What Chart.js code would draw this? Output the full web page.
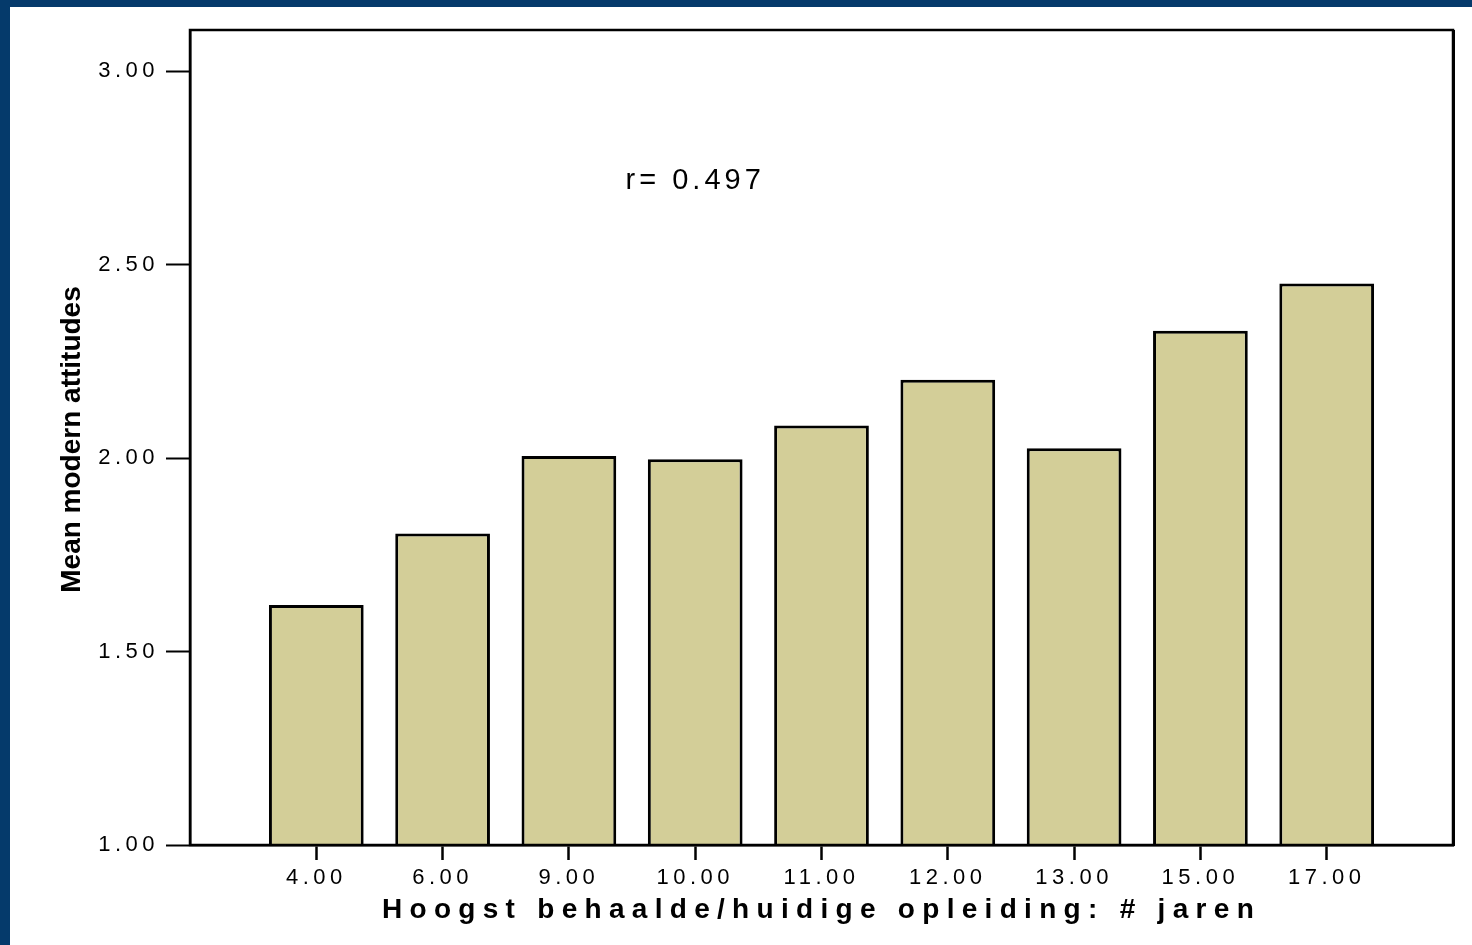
<!DOCTYPE html>
<html>
<head>
<meta charset="utf-8">
<script src="https://cdn.jsdelivr.net/npm/chart.js@4.4.0/dist/chart.umd.min.js"></script>
<style>
  html, body { margin: 0; padding: 0; background: #053a6b; overflow: hidden; }
  #wrap { position: absolute; left: 10px; top: 7px; width: 1462px; height: 938px; background: #fff; }
</style>
</head>
<body>
<div id="wrap"><canvas id="myChart" width="1462" height="938"></canvas></div>
<script>
// years of education (categories) and mean score per group
var categories = ['4.00', '6.00', '9.00', '10.00', '11.00', '12.00', '13.00', '15.00', '17.00'];
var meanValues = [1.62, 1.805, 2.005, 1.997, 2.084, 2.202, 2.025, 2.329, 2.451];
var yTicks = [1.0, 1.5, 2.0, 2.5, 3.0];
var xTitle = 'Hoogst behaalde/huidige opleiding: # jaren';
var yTitle = 'Mean modern attitudes';
var note = 'r= 0.497';

var FONT = "'Liberation Sans', Arial, Helvetica, sans-serif";

// one empty slot on each side so the bars sit like in the original plot
var labels = [''].concat(categories, ['']);
var values = [null].concat(meanValues, [null]);

var framePlugin = {
  id: 'frame',
  beforeDraw: function (chart) {
    // axis title is drawn before the bars, tick labels after (ticks.z = 1)
    chart.ctx.letterSpacing = '7.3px';
  },
  afterDatasetsDraw: function (chart) {
    var ctx = chart.ctx, a = chart.chartArea;
    ctx.save();
    ctx.strokeStyle = '#000';
    ctx.lineWidth = 2.5;
    ctx.strokeRect(a.left, a.top, a.right - a.left, a.bottom - a.top);
    ctx.lineWidth = 3;
    ctx.beginPath();
    ctx.moveTo(a.right + 0.5, a.top);
    ctx.lineTo(a.right + 0.5, a.bottom + 1);
    ctx.stroke();
    ctx.restore();
    ctx.letterSpacing = '4.5px';
  },
  afterDraw: function (chart) {
    var ctx = chart.ctx, a = chart.chartArea;
    ctx.save();
    // y axis title, no letter spacing
    ctx.letterSpacing = '0px';
    ctx.fillStyle = '#000';
    ctx.font = 'bold 28px ' + FONT;
    ctx.textAlign = 'center';
    ctx.textBaseline = 'middle';
    ctx.translate(62, (a.top + a.bottom) / 2 + 2);
    ctx.rotate(-Math.PI / 2);
    ctx.fillText(yTitle, 0, 0);
    ctx.restore();

    // correlation note
    ctx.save();
    ctx.letterSpacing = '4px';
    ctx.fillStyle = '#000';
    ctx.font = '29px ' + FONT;
    ctx.textAlign = 'center';
    ctx.textBaseline = 'middle';
    var x = chart.scales.x.getPixelForValue(4);
    var y = chart.scales.y.getPixelForValue(2.715);
    ctx.fillText(note, x, y);
    ctx.restore();
  }
};

var chart = new Chart(document.getElementById('myChart').getContext('2d'), {
  type: 'bar',
  data: {
    labels: labels,
    datasets: [{
      label: yTitle,
      data: values,
      backgroundColor: '#d3ce98',
      borderColor: '#000',
      borderWidth: 3,
      barPercentage: 0.75,
      categoryPercentage: 1
    }]
  },
  options: {
    responsive: false,
    animation: false,
    layout: { padding: { top: 23, right: 19, bottom: 0, left: 0 } },
    plugins: {
      legend: { display: false },
      tooltip: { enabled: false }
    },
    scales: {
      x: {
        offset: false,
        grid: {
          offset: false,
          drawOnChartArea: false,
          tickLength: 15,
          tickWidth: 2.5,
          tickColor: function (c) {
            return (c.index === 0 || c.index === labels.length - 1) ? 'rgba(0,0,0,0)' : '#000';
          }
        },
        border: { color: '#000', width: 2.5 },
        ticks: {
          z: 1,
          color: '#000',
          font: { family: FONT, size: 22 },
          padding: 5,
          maxRotation: 0,
          autoSkip: false
        },
        title: {
          display: true,
          text: xTitle,
          color: '#000',
          font: { family: FONT, size: 28, weight: 'bold' },
          padding: { top: 0, bottom: 18 }
        },
        afterFit: function (s) { s.height = 100; }
      },
      y: {
        min: 1,
        max: 3.106,
        grid: {
          drawOnChartArea: false,
          tickLength: 24,
          tickWidth: 2,
          tickColor: '#000'
        },
        border: { color: '#000', width: 2.5 },
        afterBuildTicks: function (s) {
          s.ticks = yTicks.map(function (v) { return { value: v }; });
        },
        ticks: {
          z: 1,
          color: '#000',
          font: { family: FONT, size: 22 },
          padding: 7,
          callback: function (v) { return Number(v).toFixed(2); }
        },
        title: { display: false },
        afterFit: function (s) { s.width = 180; }
      }
    }
  },
  plugins: [framePlugin]
});
</script>
</body>
</html>
